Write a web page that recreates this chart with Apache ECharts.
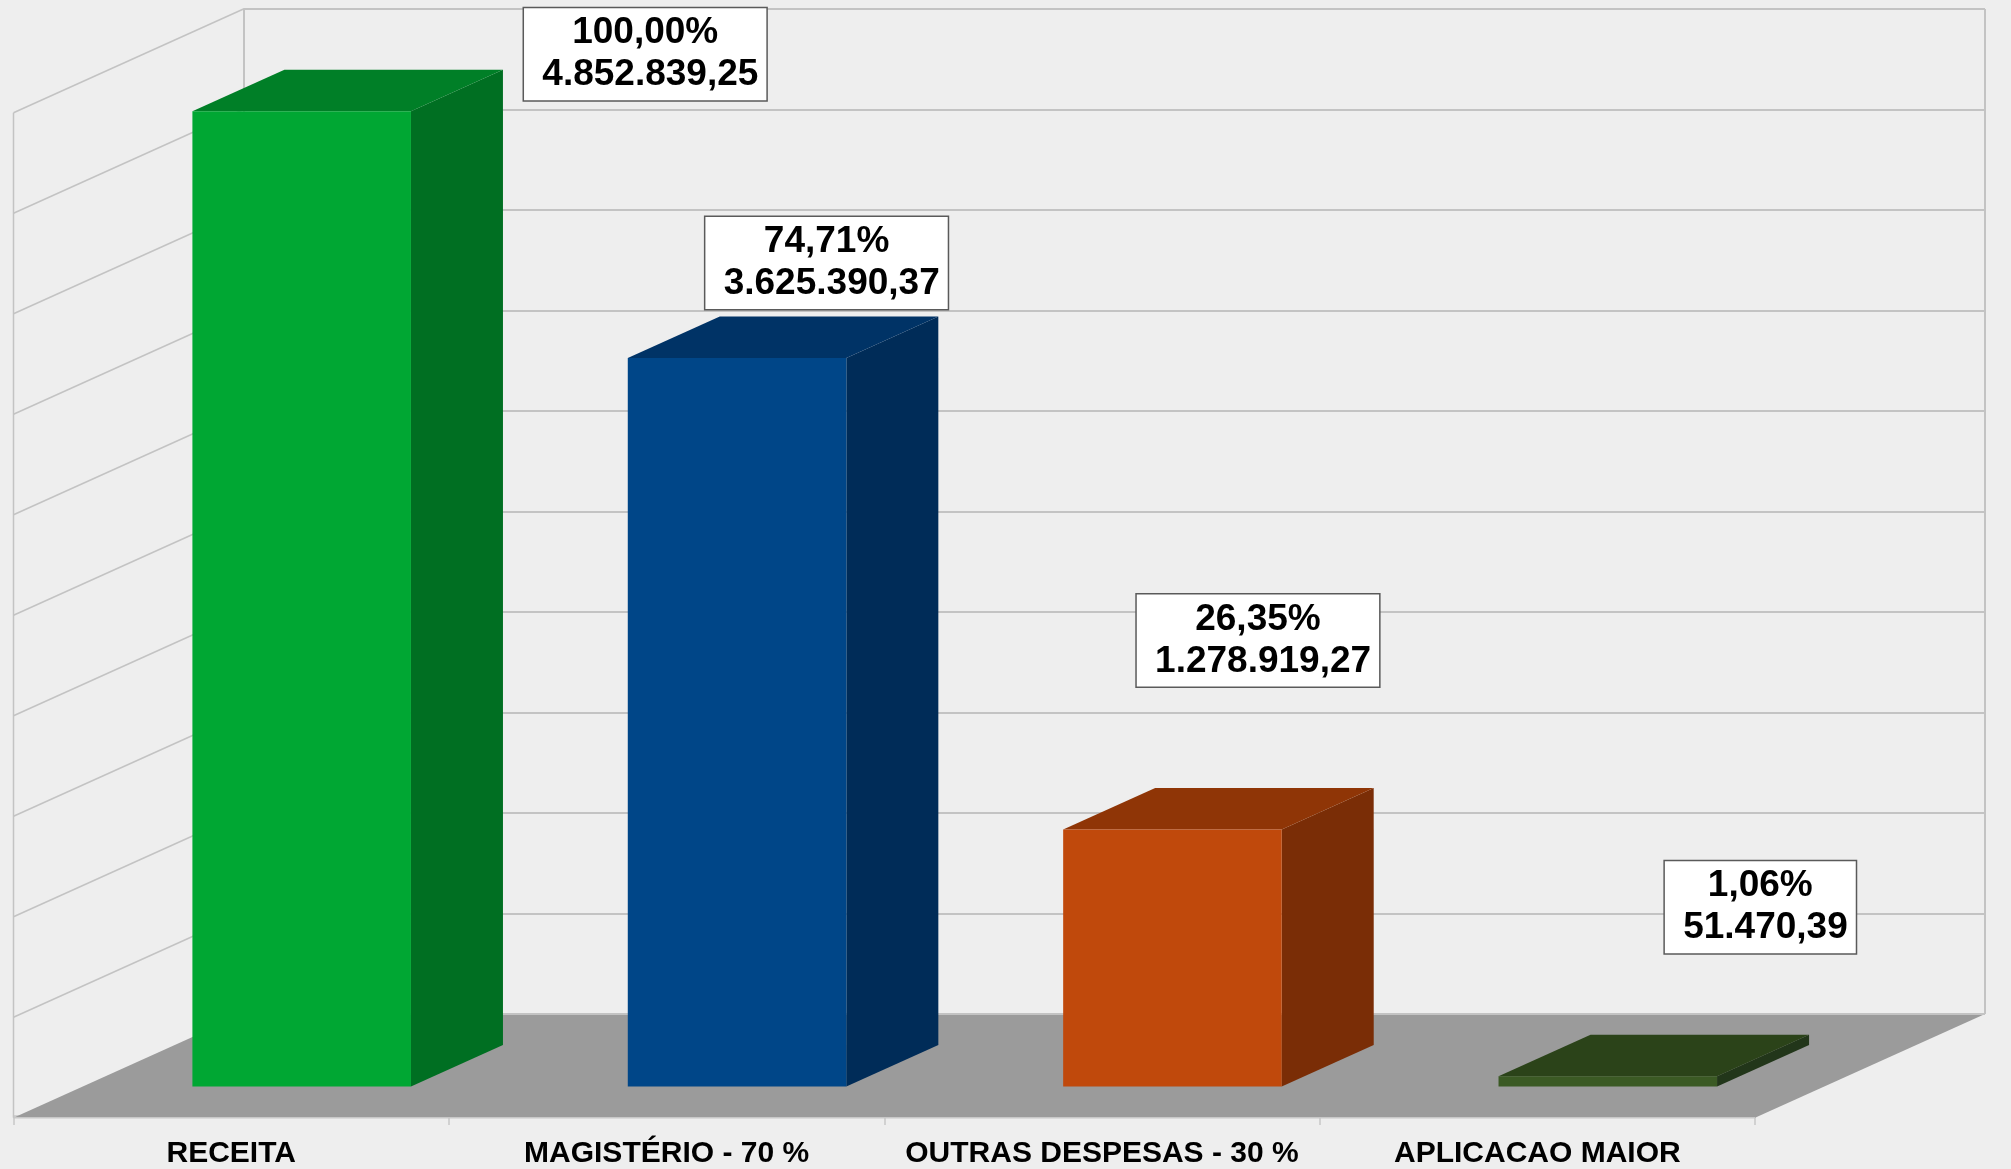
<!DOCTYPE html>
<html>
<head>
<meta charset="utf-8">
<title>Receita x Aplicação</title>
<script src="https://cdn.jsdelivr.net/npm/echarts/dist/echarts.min.js"></script>
<style>
  html, body { margin: 0; padding: 0; background: #eeeeee; }
  #c { width: 2011px; height: 1169px; }
</style>
</head>
<body>
<div id="c"></div>
<script>
// ---- data ----
const categories = ['RECEITA', 'MAGISTÉRIO - 70 %', 'OUTRAS DESPESAS - 30 %', 'APLICACAO MAIOR'];
const values = [4852839.25, 3625390.37, 1278919.27, 51470.39];
const percentLabels = ['100,00%', '74,71%', '26,35%', '1,06%'];
const amountLabels = ['4.852.839,25', '3.625.390,37', '1.278.919,27', '51.470,39'];
const yMin = 0;
const yMax = 5000000;
const yStep = 500000;
const yTicks = [0, 500000, 1000000, 1500000, 2000000, 2500000, 3000000, 3500000, 4000000, 4500000, 5000000];

// ---- layout / style (not data) ----
const DX = -230, DY = 103.7;          // depth vector, back wall -> front edge of floor
const BAR_FRONT = 0.70, BAR_BACK = 0.30; // bar depth fractions measured from back wall
const BAR_WIDTH_RATIO = 0.502;
const labelOffsets = [[345, -58], [91, -96], [87, -190], [154, -170]];
const faceColors = [
  { front: '#00a733', side: '#006f22', top: '#007f27' },
  { front: '#004688', side: '#002c58', top: '#003366' },
  { front: '#c0490c', side: '#7a2d06', top: '#8f3506' },
  { front: '#3b5a24', side: '#22361a', top: '#2b4319' }
];
const GRID_COLOR = '#c3c3c3';
const FONT = '"Liberation Sans", Arial, Helvetica, sans-serif';

function renderRoom(params, api) {
  const cs = params.coordSys;
  const v = api.value(1);
  const y = api.coord([0, v])[1];
  const xL = cs.x, xR = cs.x + cs.width;
  const children = [];
  if (v === yMin) {
    const yTop = api.coord([0, yMax])[1];
    children.push({ type: 'polygon', shape: { points: [[xL, y], [xR, y], [xR + DX, y + DY], [xL + DX, y + DY]] },
      style: { fill: '#9b9b9b' } });
    children.push({ type: 'line', shape: { x1: xL, y1: y, x2: xR, y2: y }, style: { stroke: GRID_COLOR, lineWidth: 2 } });
    children.push({ type: 'line', shape: { x1: xL + DX, y1: y + DY, x2: xR + DX, y2: y + DY }, style: { stroke: '#c8c8c8', lineWidth: 1.5 } });
    children.push({ type: 'line', shape: { x1: xL + DX, y1: yTop + DY, x2: xL + DX, y2: y + DY }, style: { stroke: GRID_COLOR, lineWidth: 1.5 } });
    children.push({ type: 'line', shape: { x1: xR, y1: yTop, x2: xR, y2: y }, style: { stroke: GRID_COLOR, lineWidth: 2 } });
  } else {
    children.push({ type: 'line', shape: { x1: xL, y1: y, x2: xL + DX, y2: y + DY }, style: { stroke: GRID_COLOR, lineWidth: 1.5 } });
  }
  return { type: 'group', children: children };
}

function renderBar(params, api) {
  const i = params.dataIndex;
  const v = api.value(1);
  const top = api.coord([i, v]);
  const base = api.coord([i, 0]);
  const bw = api.size([1, 0])[0] * BAR_WIDTH_RATIO;
  const fx = DX * BAR_FRONT, fy = DY * BAR_FRONT;
  const bx = DX * BAR_BACK, by = DY * BAR_BACK;
  const xl = top[0] - bw / 2 + 1.5, xr = top[0] + bw / 2 + 1.5;
  const c = faceColors[i];
  const front = [[xl + fx, top[1] + fy], [xr + fx, top[1] + fy], [xr + fx, base[1] + fy], [xl + fx, base[1] + fy]];
  const side = [[xr + fx, top[1] + fy], [xr + bx, top[1] + by], [xr + bx, base[1] + by], [xr + fx, base[1] + fy]];
  const lid = [[xl + fx, top[1] + fy], [xl + bx, top[1] + by], [xr + bx, top[1] + by], [xr + fx, top[1] + fy]];
  const off = labelOffsets[i];
  return {
    type: 'group',
    children: [
      { type: 'polygon', shape: { points: side }, style: { fill: c.side } },
      { type: 'polygon', shape: { points: lid }, style: { fill: c.top } },
      { type: 'polygon', shape: { points: front }, style: { fill: c.front } },
      { type: 'text', z2: 10,
        style: {
          text: percentLabels[i] + '\n ' + amountLabels[i],
          x: top[0] + fx + off[0], y: top[1] + fy + off[1] + 1,
          align: 'center', verticalAlign: 'middle',
          font: 'bold 37px ' + FONT, lineHeight: 42,
          fill: '#000000', backgroundColor: '#ffffff',
          borderColor: '#5a5a5a', borderWidth: 1.5, padding: [4, 8]
        } }
    ]
  };
}

const chart = echarts.init(document.getElementById('c'), null, { renderer: 'canvas' });
chart.setOption({
  backgroundColor: '#eeeeee',
  animation: false,
  grid: [
    { left: 243.5, top: 9, width: 1741.5, height: 1005, containLabel: false, show: false },
    { left: 13.5, top: 112.7, width: 1741.5, height: 1005, containLabel: false, show: false }
  ],
  xAxis: [
    { gridIndex: 0, type: 'category', data: categories, show: false },
    { gridIndex: 1, type: 'category', data: categories,
      axisLine: { show: true, lineStyle: { color: '#c8c8c8', width: 1.5 } },
      axisTick: { show: true, length: 9, lineStyle: { color: '#c8c8c8', width: 1.5 } },
      axisLabel: { interval: 0, color: '#000000', fontSize: 30, fontWeight: 'bold', fontFamily: FONT, margin: 23 },
      splitLine: { show: false } }
  ],
  yAxis: [
    { gridIndex: 0, type: 'value', min: yMin, max: yMax, interval: yStep,
      axisLabel: { show: false }, axisTick: { show: false },
      axisLine: { show: true, lineStyle: { color: GRID_COLOR, width: 2 } },
      splitLine: { show: true, lineStyle: { color: GRID_COLOR, width: 2 } } },
    { gridIndex: 1, type: 'value', min: yMin, max: yMax, interval: yStep, show: false, splitLine: { show: false } }
  ],
  series: [
    { type: 'custom', xAxisIndex: 0, yAxisIndex: 0, z: 1, silent: true,
      data: yTicks.map(function (t) { return [0, t]; }), renderItem: renderRoom },
    { type: 'custom', xAxisIndex: 0, yAxisIndex: 0, z: 3,
      data: values.map(function (v, i) { return [i, v]; }), renderItem: renderBar }
  ]
});
</script>
</body>
</html>
